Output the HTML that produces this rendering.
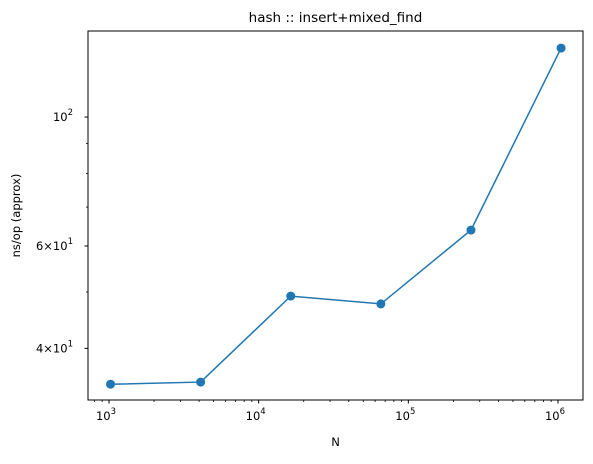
<!DOCTYPE html>
<html><head><meta charset="utf-8"><style>
body{margin:0;background:#fff;}
svg text{font-family:"DejaVu Sans","Liberation Sans",sans-serif;fill:#000;}
</style></head><body>
<svg id="chart" width="593" height="459" viewBox="0 0 593 459">
<rect x="0" y="0" width="593" height="459" fill="#fff"/>
<text x="335.5" y="22" font-size="13.5" text-anchor="middle">hash :: insert+mixed_find</text>
<text x="335.5" y="446" font-size="11.5" text-anchor="middle">N</text>
<text transform="translate(20,215.5) rotate(-90)" font-size="11.5" text-anchor="middle">ns/op (approx)</text>
<g id="ticks"></g>
<g id="series"></g>
<rect x="88" y="31" width="495" height="369" fill="none" stroke="#000" stroke-width="1"/>
</svg>
<script>
const nValues = [1024, 4096, 16384, 65536, 262144, 1048576];
const nsPerOp = [34.7, 35.0, 49.2, 47.7, 63.9, 131.4];
const xMajorTicks = [3, 4, 5, 6];
const yMajorTicks = [40, 60, 100];
const yMajorLabels = ["4×10", "6×10", "10"];
const yMajorExp = ["1", "1", "2"];
const yMinorTicks = [50, 70, 80, 90];

const L=88,R=583,T=31,B=400;
const xLo=2.8597,xHi=6.167,yLo=Math.log10(32.6),yHi=Math.log10(140.6);
const xs=v=>L+(Math.log10(v)-xLo)/(xHi-xLo)*(R-L);
const ys=v=>B-(Math.log10(v)-yLo)/(yHi-yLo)*(B-T);
const NS="http://www.w3.org/2000/svg";
const tg=document.getElementById('ticks'), sg=document.getElementById('series');
function mk(tag,attrs,parent){const e=document.createElementNS(NS,tag);for(const k in attrs)e.setAttribute(k,attrs[k]);parent.appendChild(e);return e;}

xMajorTicks.forEach(p=>{
  const x=xs(Math.pow(10,p));
  const t=mk('line',{x1:x,x2:x,y1:B,y2:B+3.5,stroke:'#000'},tg);
  
  
  const tx=mk('text',{x:x-3,y:B+20,'font-size':11.5,'text-anchor':'middle'},tg);
  
  
  tx.textContent='10';
  const sp=mk('tspan',{dy:-6,'font-size':8.5},tx);sp.textContent=p;
});
for(let p=2;p<=6;p++){for(let m=2;m<=9;m++){const v=m*Math.pow(10,p);const x=xs(v);if(x<L||x>R)continue;
  const t=mk('line',{x1:x,x2:x,y1:B,y2:B+2,stroke:'#000','stroke-width':0.8},tg);
  
  }}
yMajorTicks.forEach((v,i)=>{
  const y=ys(v);
  const t=mk('line',{x1:L-3.5,x2:L,y1:y,y2:y,stroke:'#000'},tg);
  
  
  const tx=mk('text',{x:L-15,y:y+4,'font-size':11.5,'text-anchor':'end'},tg);
  
  
  tx.textContent=yMajorLabels[i];
  const sp=mk('tspan',{dy:-6,'font-size':8.5},tx);sp.textContent=yMajorExp[i];
});
yMinorTicks.forEach(v=>{const y=ys(v);
  const t=mk('line',{x1:L-2,x2:L,y1:y,y2:y,stroke:'#000','stroke-width':0.8},tg);
  
  });

const pts=nValues.map((n,i)=>xs(n)+','+ys(nsPerOp[i])).join(' ');
const line=mk('polyline',{points:pts,fill:'none',stroke:'#1f77b4','stroke-width':1.5},sg);


nValues.forEach((n,i)=>{
  const c=mk('circle',{cx:xs(n),cy:ys(nsPerOp[i]),r:4.5,fill:'#1f77b4'},sg);
  
  
});
</script>
</body></html>
